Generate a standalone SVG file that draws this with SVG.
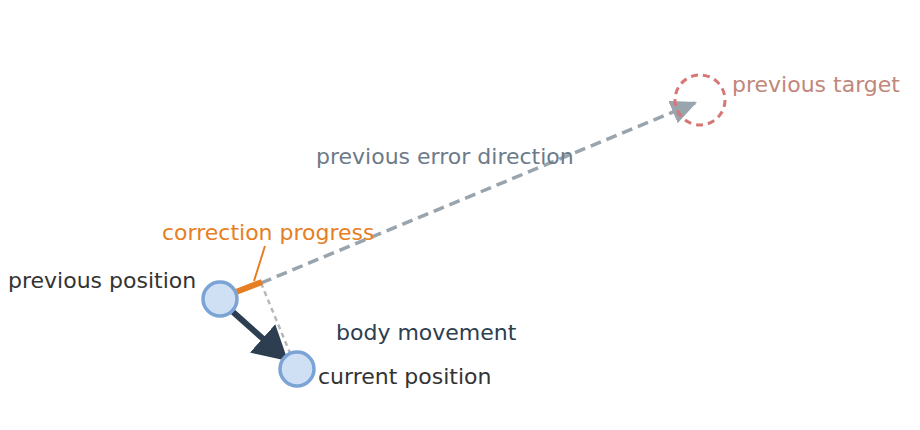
<svg xmlns="http://www.w3.org/2000/svg" width="920" height="430" viewBox="0 0 920 430">
<style>
text{font-family:"DejaVu Sans",sans-serif;font-size:22px}
.pos{fill:#cfdff4;stroke:#7ba3d6;stroke-width:3.5}
</style>
<defs>
<marker id="ag" markerUnits="userSpaceOnUse" markerWidth="28" markerHeight="24" refX="26" refY="12" orient="auto">
<path d="M0,0 L26,12 L0,24 Z" fill="#99a4ad"/>
</marker>
<marker id="ad" markerUnits="userSpaceOnUse" markerWidth="36" markerHeight="38" refX="34" refY="19" orient="auto">
<path d="M0,0 L34,19 L0,38 Z" fill="#2c3e50"/>
</marker>
</defs>
<rect width="920" height="430" fill="#ffffff"/>
<g id="connectors">
<line x1="261" y1="283" x2="697" y2="102" stroke="#99a4ad" stroke-width="3.5" stroke-dasharray="11,6"/>
<line x1="640" y1="126" x2="697" y2="102" stroke="none" marker-end="url(#ag)"/>
<line x1="261" y1="283" x2="290" y2="353" stroke="#b8b8b8" stroke-width="2.5" stroke-dasharray="5,4"/>
<line x1="236" y1="292" x2="262" y2="282" stroke="#e67e22" stroke-width="6"/>
<line x1="265" y1="246" x2="254" y2="281" stroke="#e67e22" stroke-width="2"/>
<line x1="233" y1="312" x2="288" y2="361" stroke="#2c3e50" stroke-width="6" marker-end="url(#ad)"/>
</g>
<g id="previous-target">
<circle cx="700" cy="100" r="25" fill="none" stroke="#d67676" stroke-width="3" stroke-dasharray="7,5"/>
<text x="732" y="92" fill="#c1877a">previous target</text>
</g>
<g id="previous-position">
<circle class="pos" cx="220" cy="299" r="17"/>
<text x="8" y="288" fill="#333333">previous position</text>
</g>
<g id="current-position">
<circle class="pos" cx="297" cy="369" r="17"/>
<text x="318" y="384" fill="#333333">current position</text>
</g>
<g id="labels">
<text x="316" y="164" fill="#6c7a89">previous error direction</text>
<text x="162" y="240" fill="#e67e22">correction progress</text>
<text x="336" y="340" fill="#2c3e50">body movement</text>
</g>
</svg>
